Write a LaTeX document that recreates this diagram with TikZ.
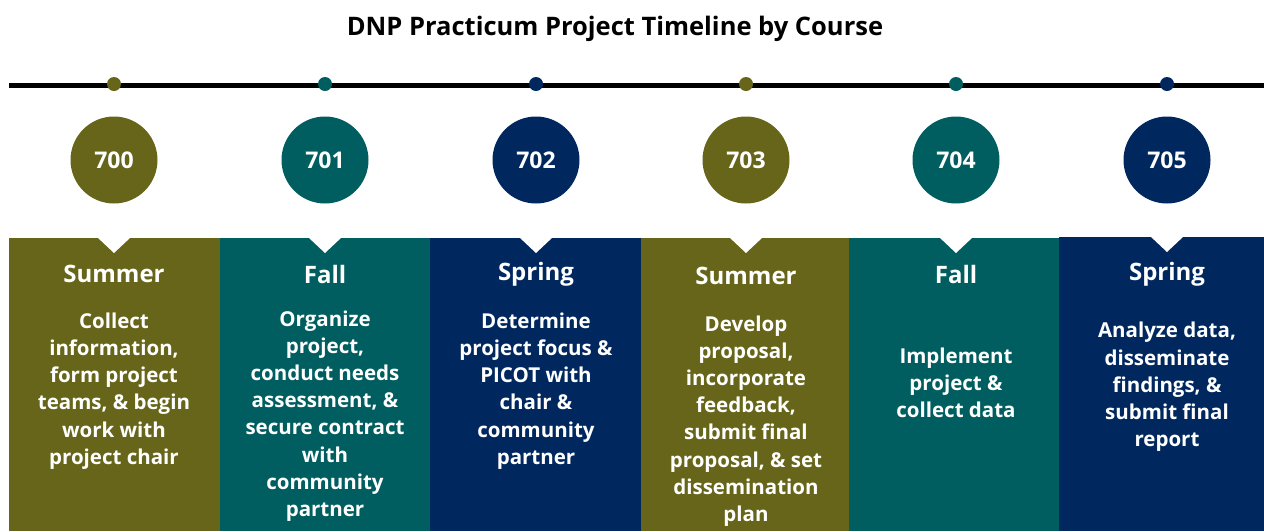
\documentclass[tikz,border=0pt]{standalone}
\usepackage{fontspec}
\setmainfont{Open Sans}
\usepackage{tikz}
\usetikzlibrary{positioning}

\definecolor{olivec}{RGB}{103,101,26}
\definecolor{tealc}{RGB}{0,94,96}
\definecolor{navyc}{RGB}{0,40,94}

\tikzset{
  dotmark/.style={circle,fill=#1,inner sep=0pt,minimum size=14pt},
  coursenum/.style={circle,fill=#1,inner sep=0pt,minimum size=87pt,text=white,font=\fontsize{23}{26}\selectfont\bfseries},
  season/.style={text=white,font=\fontsize{24}{28}\selectfont\bfseries},
  task/.style={text=white,align=center,font=\fontsize{20.5}{27.2}\selectfont\bfseries},
  notch/.style={fill=white}
}

\begin{document}
\begin{tikzpicture}[x=1pt,y=-1pt]

\useasboundingbox (0,0) rectangle (1264,531);

\node[font=\fontsize{25.5}{30}\selectfont\bfseries] (title) at (615,29) {DNP Practicum Project Timeline by Course};

% timeline
\coordinate (tl) at (9,85);
\coordinate (tr) at (1264,85);
\draw[line width=5pt] (tl) -- (tr);

\node[dotmark=olivec] (d700) at (114,84) {};
\node[dotmark=tealc] (d701) at (325,84) {};
\node[dotmark=navyc] (d702) at (536,84) {};
\node[dotmark=olivec] (d703) at (746,84) {};
\node[dotmark=tealc] (d704) at (956,84) {};
\node[dotmark=navyc] (d705) at (1167,84) {};

\node[coursenum=olivec] (c700) at (114,160) {700};
\node[coursenum=tealc] (c701) at (325,160) {701};
\node[coursenum=navyc] (c702) at (536,160) {702};
\node[coursenum=olivec] (c703) at (746,160) {703};
\node[coursenum=tealc] (c704) at (956,160) {704};
\node[coursenum=navyc] (c705) at (1167,160) {705};

% columns
\fill[olivec] (9,238) rectangle (220,531);
\fill[tealc] (220,238) rectangle (430,531);
\fill[navyc] (430,238) rectangle (641,531);
\fill[olivec] (641,238) rectangle (849,531);
\fill[tealc] (849,238) rectangle (1059,531);
\fill[navyc] (1059,237) rectangle (1264,531);

\fill[notch] (97,237)--(131,237)--(114,253)--cycle;
\fill[notch] (308,237)--(342,237)--(325,253)--cycle;
\fill[notch] (519,237)--(553,237)--(536,253)--cycle;
\fill[notch] (729,237)--(763,237)--(746,253)--cycle;
\fill[notch] (939,237)--(973,237)--(956,253)--cycle;
\fill[notch] (1150,236)--(1184,236)--(1167,252)--cycle;

\node[season] (s700) at (114,274) {Summer};
\node[season] (s701) at (325,274) {Fall};
\node[season] (s702) at (536,274) {Spring};
\node[season] (s703) at (746,276) {Summer};
\node[season] (s704) at (956,274) {Fall};
\node[season] (s705) at (1167,274) {Spring};

\node[task] (t700) at (114,391) {Collect\\information,\\form project\\teams, \& begin\\work with\\project chair};
\node[task] (t701) at (325,416) {Organize\\project,\\conduct needs\\assessment, \&\\secure contract\\with\\community\\partner};
\node[task] (t702) at (536,391) {Determine\\project focus \&\\PICOT with\\chair \&\\community\\partner};
\node[task] (t703) at (746,421) {Develop\\proposal,\\incorporate\\feedback,\\submit final\\proposal, \& set\\dissemination\\plan};
\node[task] (t704) at (956,383) {Implement\\project \&\\collect data};
\node[task] (t705) at (1167,387) {Analyze data,\\disseminate\\findings, \&\\submit final\\report};

\end{tikzpicture}
\end{document}
